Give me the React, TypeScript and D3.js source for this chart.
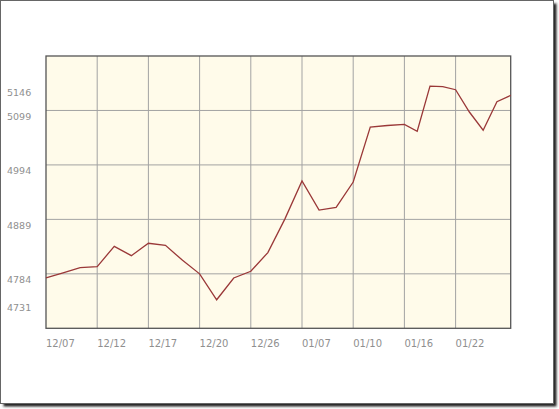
import React from "react";
import * as d3 from "d3";

const dateLabels = ["12/07", "12/12", "12/17", "12/20", "12/26", "01/07", "01/10", "01/16", "01/22"];
const labelIndex = [0, 3, 6, 9, 12, 15, 18, 21, 25];
const values = [
  4776, 4786, 4796, 4798, 4837, 4819, 4843, 4839, 4810, 4784,
  4734, 4776, 4789, 4825, 4890, 4963, 4907, 4912, 4961, 5067,
  5070, 5072, 5059, 5146, 5145, 5139, 5096, 5061, 5116, 5128,
];
const yTickLabels = [4731, 4784, 4889, 4994, 5099, 5146];
const yGrid = [4784, 4889, 4994, 5099];
const yDomain = [4679, 5204];

const W = 559;
const H = 409;
const left = 46;
const right = 510.7;
const top = 56;
const bottom = 328.3;
const step = 51.2;

export default function App() {
  const x = d3
    .scaleLinear()
    .domain([0, 21, 25, values.length - 1])
    .range([left, left + 7 * step, left + 8 * step, right]);
  const y = d3.scaleLinear().domain(yDomain).range([bottom, top]);
  const line = d3
    .line<number>()
    .x((_, i) => x(i))
    .y((d) => y(d));

  return (
    <svg
      width={W}
      height={H}
      style={{ position: "absolute", left: 0, top: 0, background: "#fff" }}
    >
      <defs>
        <filter id="blur" x="-5%" y="-5%" width="110%" height="110%">
          <feGaussianBlur stdDeviation="1.2" />
        </filter>
      </defs>
      <rect x={3.5} y={3.5} width={553} height={403} fill="#222" filter="url(#blur)" />
      <rect x={0.5} y={0.5} width={553} height={403} fill="#fff" stroke="#666" strokeWidth={1} />

      <rect x={left} y={top} width={right - left} height={bottom - top} fill="#fffbea" />
      {labelIndex.slice(1).map((li, k) => (
        <line
          key={"vx" + k}
          x1={x(li)}
          x2={x(li)}
          y1={top}
          y2={bottom}
          stroke="#a3a3a3"
          strokeWidth={1}
        />
      ))}
      {yGrid.map((v) => (
        <line
          key={"hy" + v}
          x1={left}
          x2={right}
          y1={y(v)}
          y2={y(v)}
          stroke="#a3a3a3"
          strokeWidth={1}
        />
      ))}
      <rect
        x={left}
        y={top}
        width={right - left}
        height={bottom - top}
        fill="none"
        stroke="#555"
        strokeWidth={1.3}
      />
      <path d={line(values) || ""} fill="none" stroke="#9a3838" strokeWidth={1.3} />

      {yTickLabels.map((v) => (
        <text
          key={"yl" + v}
          x={7}
          y={y(v) + 9.5}
          fontFamily="DejaVu Sans"
          fontSize={9.5}
          fill="#8f8f8f"
        >
          {v}
        </text>
      ))}
      {dateLabels.map((d, k) => (
        <text
          key={"xl" + d}
          x={x(labelIndex[k])}
          y={347}
          fontFamily="DejaVu Sans"
          fontSize={10}
          fill="#8f8f8f"
        >
          {d}
        </text>
      ))}
    </svg>
  );
}
